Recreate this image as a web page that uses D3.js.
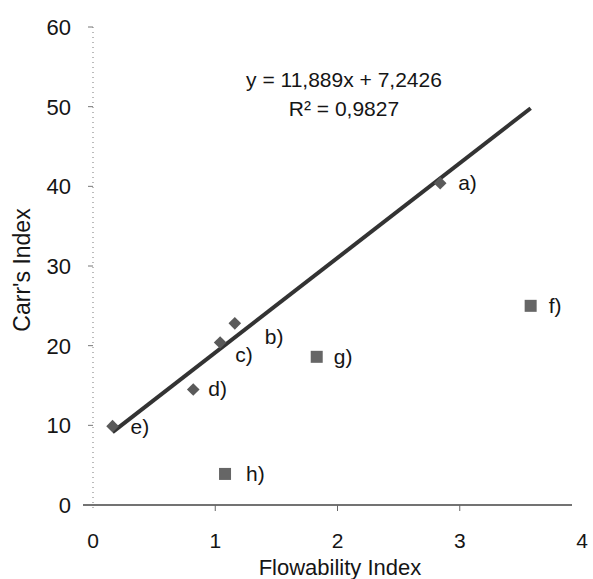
<!DOCTYPE html>
<html><head><meta charset="utf-8">
<script src="https://cdn.jsdelivr.net/npm/d3@7"></script>
<style>
body{margin:0;background:#fff;}
text{font-family:"Liberation Sans",Arial,sans-serif;fill:#151515;}
</style></head>
<body><svg id="c" width="593" height="579"></svg>
<script>
const fittedLabels = ["a)","b)","c)","d)","e)"];
const fittedX = [2.84,1.16,1.04,0.82,0.16];
const fittedY = [40.4,22.8,20.4,14.5,9.9];
const otherLabels = ["f)","g)","h)"];
const otherX = [3.58,1.83,1.08];
const otherY = [25.0,18.6,3.9];
const slope = 11.889, intercept = 7.2426;
const xTicks = [0,1,2,3,4];
const yTicks = [0,10,20,30,40,50,60];
// label offsets (px) for point annotations
const fittedLabelDx = [18,30,15,15,18], fittedLabelDy = [0,14,13,0,1];
const otherLabelDx = [18,17,21], otherLabelDy = [0,0,0];

const svg = d3.select("#c");
const x = d3.scaleLinear().domain([0,4]).range([93,582]);
const y = d3.scaleLinear().domain([0,60]).range([505,27]);

// y axis dotted line
svg.append("line").attr("x1",x(0)).attr("x2",x(0)).attr("y1",y(60)).attr("y2",y(0)+5)
  .attr("stroke","#777").attr("stroke-width",1).attr("stroke-dasharray","1,4");
// x axis
svg.append("line").attr("x1",x(0)-10).attr("x2",x(4)-10).attr("y1",y(0)).attr("y2",y(0))
  .attr("stroke","#444").attr("stroke-width",1.5);
svg.selectAll(".xt").data(xTicks.slice(1,4)).enter().append("line")
  .attr("x1",d=>x(d)).attr("x2",d=>x(d)).attr("y1",y(0)).attr("y2",y(0)+6)
  .attr("stroke","#666").attr("stroke-width",1);
svg.selectAll(".yt").data(yTicks.slice(1)).enter().append("line")
  .attr("x1",x(0)-5).attr("x2",x(0)).attr("y1",d=>y(d)).attr("y2",d=>y(d))
  .attr("stroke","#777").attr("stroke-width",1);

svg.selectAll(".xl").data(xTicks).enter().append("text")
  .attr("x",d=>x(d)).attr("y",y(0)+43).attr("text-anchor","middle")
  .attr("font-size",21).text(d=>d);
svg.selectAll(".yl").data(yTicks).enter().append("text")
  .attr("x",x(0)-22).attr("y",d=>y(d)+8).attr("text-anchor","end")
  .attr("font-size",22).text(d=>d);

svg.append("text").attr("x",340).attr("y",575).attr("text-anchor","middle")
  .attr("font-size",22).text("Flowability Index");
svg.append("text").attr("transform","translate(30,270) rotate(-90)").attr("text-anchor","middle")
  .attr("font-size",23).text("Carr's Index");

// trendline
const xs = [d3.min(fittedX), d3.max(otherX)];
svg.append("line").attr("x1",x(xs[0])).attr("y1",y(slope*xs[0]+intercept))
  .attr("x2",x(xs[1])).attr("y2",y(slope*xs[1]+intercept))
  .attr("stroke","#333").attr("stroke-width",4);

// diamonds
svg.selectAll(".dm").data(fittedX).enter().append("path")
  .attr("d",d3.symbol(d3.symbolSquare,80))
  .attr("transform",(d,i)=>`translate(${x(d)},${y(fittedY[i])}) rotate(45)`)
  .attr("fill","#5a5a5a");
// squares
svg.selectAll(".sq").data(otherX).enter().append("rect")
  .attr("x",d=>x(d)-6).attr("y",(d,i)=>y(otherY[i])-6).attr("width",12).attr("height",12)
  .attr("fill","#666");

svg.selectAll(".fl").data(fittedLabels).enter().append("text")
  .attr("x",(d,i)=>x(fittedX[i])+fittedLabelDx[i]).attr("y",(d,i)=>y(fittedY[i])+fittedLabelDy[i]+7)
  .attr("font-size",21).text(d=>d);
svg.selectAll(".ol").data(otherLabels).enter().append("text")
  .attr("x",(d,i)=>x(otherX[i])+otherLabelDx[i]).attr("y",(d,i)=>y(otherY[i])+otherLabelDy[i]+7)
  .attr("font-size",21).text(d=>d);

svg.append("text").attr("x",344).attr("y",87).attr("text-anchor","middle").attr("font-size",21)
  .text("y = 11,889x + 7,2426");
svg.append("text").attr("x",344).attr("y",116).attr("text-anchor","middle").attr("font-size",21)
  .text("R² = 0,9827");
</script></body></html>
